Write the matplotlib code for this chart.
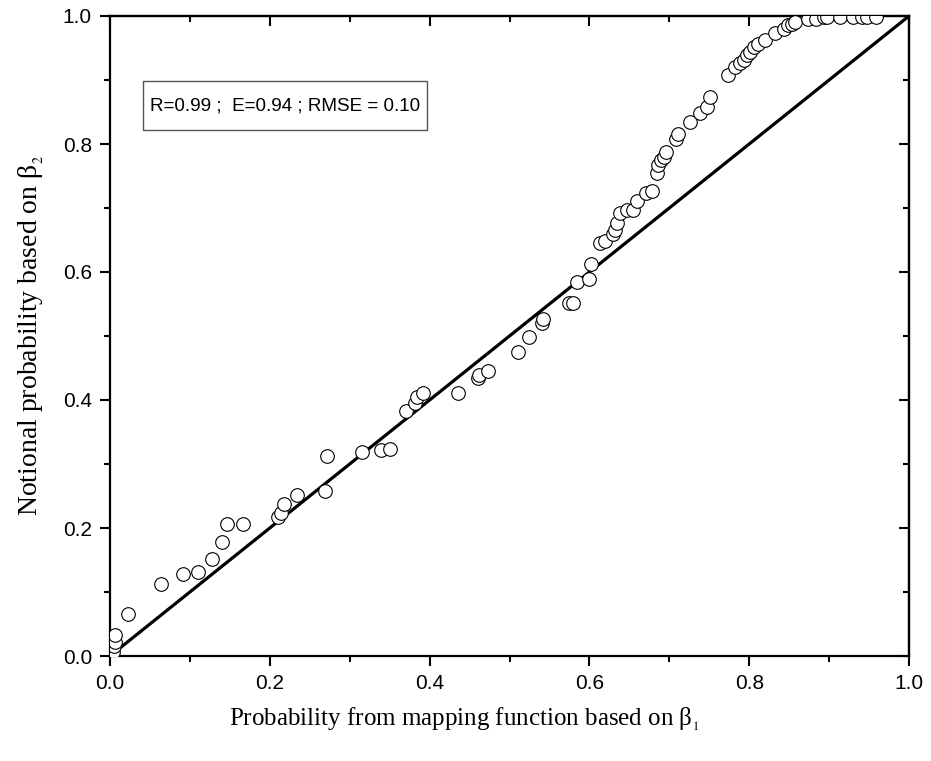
import matplotlib
matplotlib.use("Agg")
import matplotlib.pyplot as plt
from matplotlib.ticker import MultipleLocator, NullFormatter, FormatStrFormatter
from matplotlib.patches import Rectangle

# Mapping-function probability (beta_1) vs notional probability (beta_2)
p_mapping = [
    0.004, 0.005, 0.006, 0.006, 0.022, 0.064, 0.091, 0.110, 0.128, 0.140,
    0.147, 0.167, 0.210, 0.214, 0.218, 0.234, 0.269, 0.272, 0.316, 0.339,
    0.350, 0.371, 0.382, 0.384, 0.392, 0.435, 0.461, 0.462, 0.473, 0.511,
    0.524, 0.541, 0.542, 0.574, 0.580, 0.585, 0.599, 0.602, 0.613, 0.620,
    0.630, 0.632, 0.634, 0.638, 0.647, 0.655, 0.659, 0.671, 0.678, 0.684,
    0.686, 0.690, 0.693, 0.696, 0.709, 0.711, 0.726, 0.738, 0.747, 0.751,
    0.773, 0.782, 0.788, 0.793, 0.797, 0.801, 0.806, 0.811, 0.820, 0.832,
    0.843, 0.848, 0.853, 0.857, 0.874, 0.884, 0.893, 0.897, 0.914, 0.930,
    0.941, 0.947, 0.959,
]
p_notional = [
    0.007, 0.015, 0.022, 0.033, 0.066, 0.112, 0.128, 0.131, 0.152, 0.178,
    0.207, 0.207, 0.217, 0.223, 0.237, 0.252, 0.258, 0.313, 0.319, 0.322,
    0.324, 0.383, 0.395, 0.405, 0.411, 0.411, 0.435, 0.439, 0.445, 0.475,
    0.499, 0.521, 0.527, 0.551, 0.552, 0.585, 0.589, 0.612, 0.646, 0.648,
    0.659, 0.666, 0.676, 0.692, 0.697, 0.697, 0.711, 0.723, 0.726, 0.754,
    0.767, 0.775, 0.780, 0.788, 0.808, 0.816, 0.835, 0.848, 0.858, 0.874,
    0.908, 0.921, 0.926, 0.931, 0.939, 0.944, 0.952, 0.956, 0.962, 0.974,
    0.980, 0.986, 0.988, 0.991, 0.995, 0.996, 0.998, 0.999, 0.999, 0.999,
    0.999, 0.999, 0.999,
]
line_ends = [0.0, 1.0]
stats_text = "R=0.99 ;  E=0.94 ; RMSE = 0.10"

plt.rcParams["mathtext.fontset"] = "stix"

fig = plt.figure(figsize=(9.31, 7.61), dpi=100)
ax = fig.add_axes([110 / 931, 1 - 656 / 761, 799 / 931, 640 / 761])

ax.plot(line_ends, line_ends, color="black", lw=2.3, zorder=2)
ax.plot(p_mapping, p_notional, linestyle="none", marker="o", ms=9.8,
        mfc="white", mec="black", mew=0.8, zorder=3)

ax.set_xlim(0, 1)
ax.set_ylim(0, 1)
for axis in (ax.xaxis, ax.yaxis):
    axis.set_major_locator(MultipleLocator(0.2))
    axis.set_minor_locator(MultipleLocator(0.1))
    axis.set_major_formatter(FormatStrFormatter("%.1f"))

for s in ax.spines.values():
    s.set_linewidth(1.6)

ax.tick_params(which="major", direction="out", length=7, width=1.5,
               labelsize=15, pad=6)
ax.tick_params(which="minor", direction="out", length=4, width=1.5)
for lab in ax.get_xticklabels() + ax.get_yticklabels():
    lab.set_family("Liberation Sans")

# mirrored inward ticks on the top and right frame
top = ax.secondary_xaxis("top")
top.xaxis.set_major_locator(MultipleLocator(0.2))
top.xaxis.set_minor_locator(MultipleLocator(0.1))
top.xaxis.set_major_formatter(NullFormatter())
top.tick_params(which="major", direction="in", length=7, width=1.5)
top.tick_params(which="minor", direction="in", length=4, width=1.5)
top.spines["top"].set_linewidth(1.6)

right = ax.secondary_yaxis("right")
right.yaxis.set_major_locator(MultipleLocator(0.2))
right.yaxis.set_minor_locator(MultipleLocator(0.1))
right.yaxis.set_major_formatter(NullFormatter())
right.tick_params(which="major", direction="in", length=7, width=1.5)
right.tick_params(which="minor", direction="in", length=4, width=1.5)
right.spines["right"].set_linewidth(1.6)

ax.set_xlabel(r"Probability from mapping function based on β${}_{_1}$",
              family="Liberation Serif", fontsize=18)
ax.xaxis.set_label_coords(0.443, -0.077)
ax.set_ylabel(r"Notional probability based on β${}_{_2}$",
              family="Liberation Serif", fontsize=20, labelpad=12)

# statistics box
ax.add_patch(Rectangle((0.041, 0.822), 0.356, 0.076, transform=ax.transData,
                       fc="white", ec="#555555", lw=1.0, zorder=4))
ax.text(0.219, 0.860, stats_text, transform=ax.transData, ha="center",
        va="center", family="Liberation Sans", fontsize=13.6, zorder=5)

fig.savefig("out.png", dpi=100)
